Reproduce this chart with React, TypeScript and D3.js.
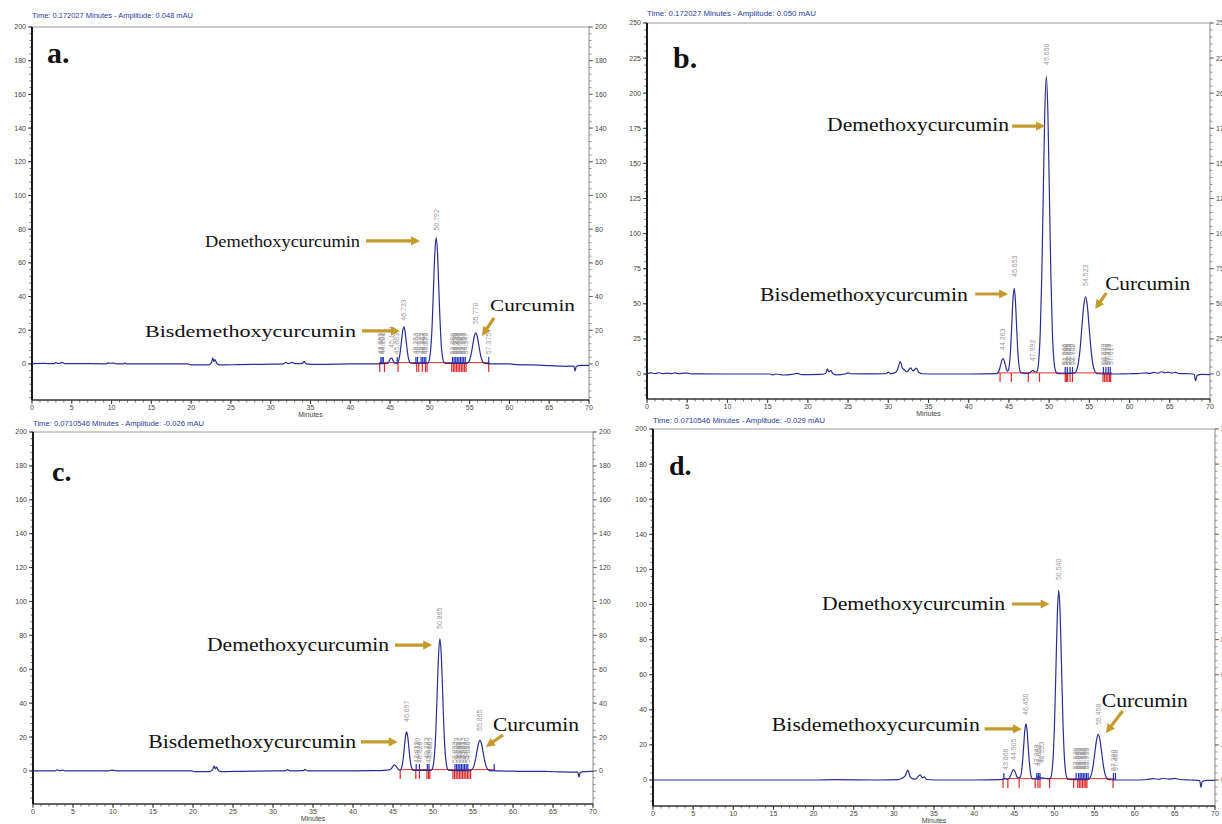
import React from 'react';
import * as d3 from 'd3';

type Pt = [number, number];
type Lbl = [number, string, number];

// ---------- panel a ----------
const traceA: Pt[] = [
  [0, 0.2], [1.5, 0.3], [2.8, 0.2], [3.0, 0.9], [3.2, 0.3], [3.5, 0.4], [3.8, 0.9], [4.1, 0.2], [6, 0.2],
  [9.3, 0.1], [9.6, 0.6], [9.9, 0.4], [10.3, 0.5], [10.6, 0.1], [11.5, 0.1], [11.65, 0.7], [11.8, 0.1],
  [15, 0], [19.5, 0.1], [20, -0.5], [22.2, -0.5], [22.55, 0.8], [22.72, 3.6], [22.85, 1.4], [23.0, 2.6],
  [23.25, 0.1], [23.6, -0.6], [26, -0.4], [29, -0.2], [31.6, 0], [31.9, 1.0], [32.2, 0.2], [32.7, 0.9],
  [33.0, 0.2], [34.0, 0.3], [34.2, 1.5], [34.45, 0.1], [36, -0.2], [40, 0], [43.5, 0.1],
  [44.64, 0.3], [44.77, 0.7], [44.89, 1.7], [45.02, 3.1], [45.14, 3.5], [45.27, 3.1], [45.39, 1.7],
  [45.52, 0.7], [45.66, 0.4], [45.83, 0.5], [45.98, 1.0], [46.13, 3.0], [46.28, 7.2], [46.43, 13.4],
  [46.58, 19.4], [46.733, 22], [46.88, 19.4], [47.03, 13.4], [47.18, 7.2], [47.33, 3.0], [47.48, 1.0],
  [47.63, 0.4], [48.5, 0.3], [49.0, 0.6], [49.3, 0.3], [49.64, 0.4], [49.8, 0.8], [49.97, 3.3],
  [50.13, 10.1], [50.3, 24.4], [50.46, 45.5], [50.63, 66.2], [50.792, 75], [50.96, 66.2], [51.12, 45.5],
  [51.29, 24.4], [51.45, 10.1], [51.62, 3.3], [51.78, 0.8], [51.95, 0.3], [53.5, 0.3], [54.63, 0.3],
  [54.82, 0.8], [55.01, 2.5], [55.2, 6.0], [55.39, 11.2], [55.58, 16.3], [55.77, 18.5], [55.96, 16.3],
  [56.15, 11.2], [56.34, 6.0], [56.53, 2.5], [56.72, 0.8], [56.91, 0.3], [58, 0], [60, 0], [61, -0.4],
  [63, -0.6], [65, -1.0], [67, -1.4], [68.1, -1.3], [68.25, -4.2], [68.4, -1.4], [69, -0.9], [70, -0.8],
];
const blueA = [43.85, 44.0, 44.15, 45.9, 48.25, 48.45, 48.9, 49.1, 49.3, 49.5, 52.85, 53.05, 53.25, 53.45,
  53.65, 53.85, 54.05, 54.25, 54.45, 57.4];
const redA = [43.7, 44.3, 46.0, 48.35, 48.6, 49.05, 49.45, 49.65, 52.75, 52.95, 53.15, 53.35, 53.55, 53.75,
  53.95, 54.15, 54.35, 54.55, 57.4];
const labelsA: Lbl[] = [
  [43.8, '43.853', 4.5], [43.95, '43.962', 4.5], [44.1, '44.101', 4.5], [45.14, '45.143', 8.3],
  [45.86, '45.863', 4.5], [46.733, '46.733', 24.5], [48.25, '48.253', 4.5], [48.45, '48.490', 4.5],
  [48.9, '48.923', 4.5], [49.1, '49.107', 4.5], [49.3, '49.290', 4.5], [49.5, '49.523', 4.5],
  [50.792, '50.792', 78], [52.85, '52.880', 4.5], [53.05, '53.050', 4.5], [53.25, '53.233', 4.5],
  [53.45, '53.417', 4.5], [53.65, '53.600', 4.5], [53.85, '53.787', 4.5], [54.05, '53.963', 4.5],
  [54.25, '54.153', 4.5], [54.45, '54.347', 4.5], [55.77, '55.770', 22.5], [57.375, '57.375', 4.5],
];

// ---------- panel b ----------
const traceB: Pt[] = [
  [0, 0.3], [0.5, 0.8], [1.0, 0.3], [1.5, 0.9], [2.0, 0.2], [2.5, 0.7], [3.0, 0.3], [3.5, 0.8], [4.0, 0.2],
  [4.5, 0.7], [5.0, 0.6], [5.5, 0.1], [10, 0], [15.3, 0], [15.6, -0.7], [16, 0], [17, -0.7], [18, -0.3],
  [18.7, 0.4], [19.2, -0.5], [21.5, -0.3], [22.2, 0.4], [22.45, 3.6], [22.6, 1.6], [22.85, 2.6], [23.1, 0.2],
  [23.6, -0.6], [24.6, 0], [25.0, 0.8], [25.3, 0.2], [27, 0.1], [29.7, 0.2], [30.0, 1.4], [30.3, 0.3],
  [30.8, 0.8], [31.1, 2.4], [31.5, 8.8], [31.75, 4.2], [32.0, 3.0], [32.3, 1.6], [32.8, 4.4], [33.05, 2.2],
  [33.5, 4.2], [33.8, 1.0], [34.2, 0.2], [36, 0], [40, 0], [43.42, 0.3], [43.56, 0.6], [43.7, 1.5],
  [43.84, 3.6], [43.98, 6.7], [44.12, 9.7], [44.263, 11], [44.4, 9.7], [44.54, 6.7], [44.68, 3.6],
  [44.82, 2.0], [44.95, 3.0], [45.09, 8.2], [45.23, 19.8], [45.37, 37.0], [45.51, 53.8], [45.653, 61],
  [45.79, 53.8], [45.93, 37.0], [46.07, 19.8], [46.21, 8.2], [46.35, 2.7], [46.49, 1.0], [46.8, 0.6],
  [47.3, 0.4], [47.6, 1.0], [47.8, 2.0], [47.99, 2.6], [48.2, 1.6], [48.4, 1.4], [48.55, 2.6], [48.7, 9.3],
  [48.89, 28.7], [49.08, 68.9], [49.27, 128.7], [49.46, 187], [49.65, 212], [49.84, 187], [50.03, 128.7],
  [50.22, 68.9], [50.41, 28.7], [50.6, 9.3], [50.79, 2.3], [50.98, 0.5], [51.5, 0.2], [53.17, 0.6],
  [53.4, 2.4], [53.62, 7.4], [53.85, 17.9], [54.07, 33.4], [54.3, 48.5], [54.523, 55], [54.75, 48.5],
  [54.97, 33.4], [55.2, 17.9], [55.42, 7.4], [55.65, 2.4], [55.87, 0.6], [56.1, 0.2], [58, 0], [60, 0.2],
  [61, 0.3], [62, 0.8], [62.5, 0.4], [63, 1.2], [63.5, 0.6], [64, 1.6], [64.4, 0.8], [64.8, 1.4], [65.2, 0.7],
  [65.7, 1.1], [66.2, 0.3], [67.5, 0.2], [68.05, -0.2], [68.2, -4.8], [68.4, -1.0], [69, -0.3], [70, -0.5],
];
const blueB = [52.0, 52.25, 52.6, 52.9, 56.75, 57.05, 57.35, 57.6];
const redB = [43.9, 45.3, 47.4, 48.8, 52.0, 52.15, 52.3, 52.6, 52.9, 56.7, 56.9, 57.1, 57.3, 57.5, 57.65];
const labelsB: Lbl[] = [
  [44.263, '44.263', 15.7], [45.653, '45.653', 67.7], [47.992, '47.992', 7.8], [49.65, '49.650', 218.7],
  [51.95, '51.966', 5], [52.1, '52.080', 5], [52.3, '52.286', 5], [52.45, '52.433', 5], [52.75, '52.750', 5],
  [52.9, '52.902', 5], [54.523, '54.523', 61.3], [56.8, '56.823', 5], [57.0, '56.977', 5],
  [57.2, '57.230', 5], [57.4, '57.413', 5], [57.6, '57.617', 5],
];

// ---------- panel c ----------
const traceC: Pt[] = [
  [0, 0.1], [2.8, 0.1], [3.0, 0.6], [3.3, 0.2], [3.7, 0.5], [4.0, 0.1], [9.5, 0], [9.8, 0.5], [10.4, 0.1],
  [15, 0], [19.8, 0], [20.2, -0.4], [22.0, -0.4], [22.45, 0.6], [22.65, 3.0], [22.8, 1.2], [22.95, 2.2],
  [23.2, 0.1], [23.6, -0.4], [26, -0.2], [30, 0], [31.5, 0.1], [31.8, 0.8], [32.1, 0.1], [33.8, 0.2],
  [34.0, 0.9], [34.3, 0.1], [40, 0.1], [43.5, 0.2], [44.2, 0.5], [44.6, 0.8], [44.8, 1.4], [45.0, 2.8],
  [45.2, 3.6], [45.4, 2.8], [45.6, 1.2], [45.86, 0.4], [46.0, 1.0], [46.14, 3.1], [46.28, 7.5],
  [46.42, 14.0], [46.56, 20.3], [46.697, 23], [46.84, 20.3], [46.98, 14.0], [47.12, 7.5], [47.26, 3.1],
  [47.4, 1.0], [47.54, 0.3], [49.0, 0.3], [49.71, 0.3], [49.87, 0.8], [50.04, 3.4], [50.2, 10.5],
  [50.37, 25.4], [50.53, 47.3], [50.7, 68.8], [50.865, 78], [51.03, 68.8], [51.2, 47.3], [51.36, 25.4],
  [51.53, 10.5], [51.69, 3.4], [51.86, 0.8], [52.02, 0.3], [54.0, 0.2], [54.67, 0.3], [54.87, 0.8],
  [55.07, 2.4], [55.27, 5.85], [55.47, 10.9], [55.67, 15.9], [55.865, 18], [56.07, 15.9], [56.27, 10.9],
  [56.47, 5.85], [56.67, 2.4], [56.87, 0.8], [57.07, 0.2], [58, 0], [60, -0.1], [62, -0.3], [64, -0.3],
  [66, -0.6], [68.1, -0.7], [68.25, -3.6], [68.4, -0.8], [69, -0.4], [70, -0.3],
];
const blueC = [47.9, 48.3, 49.3, 49.5, 52.75, 52.95, 53.15, 53.35, 53.55, 53.75, 53.95, 54.15, 54.35, 57.65];
const redC = [45.9, 47.85, 48.3, 49.25, 49.45, 49.6, 52.5, 52.7, 52.9, 53.1, 53.3, 53.5, 53.7, 53.9, 54.1,
  54.3, 54.5, 54.7];
const labelsC: Lbl[] = [
  [46.697, '46.697', 27.7], [47.9, '47.933', 3.5], [48.1, '48.110', 6], [48.3, '48.320', 3.5],
  [49.25, '49.223', 6], [49.45, '49.410', 3.5], [49.6, '49.603', 6], [50.865, '50.865', 82.6],
  [52.75, '52.893', 3.5], [52.95, '53.073', 6], [53.15, '53.260', 3.5], [53.35, '53.447', 6],
  [53.55, '53.627', 3.5], [53.75, '53.813', 6], [53.95, '54.003', 3.5], [54.15, '54.190', 6],
  [54.35, '54.380', 3.5], [55.865, '55.865', 22.4],
];

// ---------- panel d ----------
const traceD: Pt[] = [
  [0, 0], [5, 0], [10, 0], [15, 0], [20, 0], [22.5, 0.2], [28, 0], [30.5, 0.2], [31.0, 1.0], [31.4, 2.4],
  [31.75, 5.6], [32.0, 2.0], [32.3, 0.8], [32.7, 0.5], [33.05, 2.2], [33.3, 3.0], [33.55, 1.2], [33.8, 1.8],
  [34.1, 0.3], [36, 0], [40, 0], [43.2, 0.2], [43.6, 0.3], [43.87, 1.0], [44.1, 0.4], [44.35, 0.8],
  [44.49, 1.95], [44.63, 3.6], [44.77, 5.3], [44.905, 6], [45.05, 5.3], [45.19, 3.6], [45.33, 1.95],
  [45.47, 1.2], [45.6, 1.3], [45.75, 1.8], [45.89, 4.3], [46.03, 10.4], [46.17, 19.4], [46.31, 28.2],
  [46.45, 32], [46.59, 28.2], [46.73, 19.4], [46.87, 10.4], [47.01, 4.3], [47.15, 1.4], [47.3, 0.6],
  [47.7, 0.8], [48.0, 2.0], [48.3, 1.2], [48.8, 1.0], [49.2, 0.7], [49.52, 1.2], [49.69, 4.7], [49.86, 14.6],
  [50.03, 35.1], [50.2, 65.6], [50.37, 95.3], [50.54, 108], [50.71, 95.3], [50.88, 65.6], [51.05, 35.1],
  [51.22, 14.6], [51.39, 4.7], [51.56, 1.2], [51.73, 0.3], [53.5, 0.2], [54.2, 0.3], [54.41, 1.1],
  [54.62, 3.5], [54.83, 8.5], [55.04, 15.8], [55.25, 22.9], [55.458, 26], [55.67, 22.9], [55.88, 15.8],
  [56.09, 8.5], [56.3, 3.5], [56.51, 1.1], [56.72, 0.3], [58, 0], [60, 0], [61.5, 0.3], [62.3, 0.8],
  [63, 0.4], [63.6, 1.0], [64.2, 0.5], [65, 0.9], [65.6, 0.3], [67, 0], [68.1, -0.3], [68.25, -4.2],
  [68.4, -0.8], [69, -0.2], [70, -0.2],
];
const blueD = [43.7, 47.8, 48.0, 48.2, 52.7, 53.0, 53.2, 53.4, 53.6, 53.8, 54.0, 54.2, 57.35, 57.6];
const redD = [43.6, 44.2, 45.6, 47.6, 47.95, 48.2, 49.4, 52.4, 52.9, 53.1, 53.3, 53.5, 53.7, 53.9, 54.05, 57.3];
const labelsD: Lbl[] = [
  [43.868, '43.868', 4.6], [44.905, '44.905', 10.3], [46.45, '46.450', 35.9], [47.8, '47.843', 6.8],
  [48.05, '48.053', 6.8], [48.4, '48.553', 8.5], [50.54, '50.540', 112.8], [52.65, '52.640', 5],
  [52.85, '52.847', 5], [53.05, '53.050', 5], [53.25, '53.213', 5], [53.45, '53.397', 5], [53.65, '53.580', 5],
  [53.85, '53.770', 5], [54.05, '53.953', 5], [55.458, '55.458', 30.2], [57.38, '57.380', 4], [57.6, '57.468', 4],
];

const xTicks = d3.range(0, 71, 5);
const xMinor = d3.range(0, 71, 1);

interface Annot { text: string; t: number; v: number; len: number; arrow: [number, number, number, number] }

interface PanelDef {
  letter: string; letterDx: number; letterDy: number; letterSize: number;
  title: string; titleLen: number; titleDy: number;
  x0: number; x1: number; top: number; bottom: number;
  yMin: number; yMax: number; yStep: number; yMinor: number;
  trace: Pt[]; blue: number[]; red: number[]; redSpan: [number, number];
  labels: Lbl[]; annots: Annot[]; annSize: number;
}

const panels: PanelDef[] = [
  {
    letter: 'a.', letterDx: 15, letterDy: 36, letterSize: 30,
    title: 'Time:  0.172027 Minutes  -  Amplitude:  0.048 mAU', titleLen: 161, titleDy: -9,
    x0: 32, x1: 589, top: 27, bottom: 400, yMin: -21.4, yMax: 200, yStep: 20, yMinor: 4,
    trace: traceA, blue: blueA, red: redA, redSpan: [43.6, 57.5], labels: labelsA, annSize: 17,
    annots: [
      { text: 'Demethoxycurcumin', t: 21.74, v: 69.4, len: 155, arrow: [41.98, 73, 48.76, 73] },
      { text: 'Bisdemethoxycurcumin', t: 14.2, v: 16.0, len: 211, arrow: [41.47, 19.6, 46.25, 19.6] },
      { text: 'Curcumin', t: 57.56, v: 31.5, len: 85, arrow: [58.06, 27.3, 56.55, 16.6] },
    ],
  },
  {
    letter: 'b.', letterDx: 26, letterDy: 45, letterSize: 30,
    title: 'Time:  0.172027 Minutes  -  Amplitude:  0.050 mAU', titleLen: 169, titleDy: -7,
    x0: 647, x1: 1210, top: 23, bottom: 399, yMin: -17.8, yMax: 250, yStep: 25, yMinor: 5,
    trace: traceB, blue: blueB, red: redB, redSpan: [43.5, 57.8], labels: labelsB, annSize: 19,
    annots: [
      { text: 'Demethoxycurcumin', t: 22.39, v: 173, len: 182, arrow: [45.4, 176.6, 49.5, 176.6] },
      { text: 'Bisdemethoxycurcumin', t: 14.05, v: 52, len: 208, arrow: [40.8, 57, 44.9, 57] },
      { text: 'Curcumin', t: 56.97, v: 59.8, len: 85, arrow: [57.1, 57.6, 55.72, 46.3] },
    ],
  },
  {
    letter: 'c.', letterDx: 19, letterDy: 49, letterSize: 28,
    title: 'Time:  0.0710546 Minutes  -  Amplitude:  -0.026 mAU', titleLen: 171, titleDy: -6,
    x0: 33, x1: 593, top: 432, bottom: 804, yMin: -19.5, yMax: 200, yStep: 20, yMinor: 4,
    trace: traceC, blue: blueC, red: redC, redSpan: [45.9, 57.7], labels: labelsC, annSize: 19,
    annots: [
      { text: 'Demethoxycurcumin', t: 21.75, v: 70.8, len: 182, arrow: [45.25, 74.3, 49.9, 74.3] },
      { text: 'Bisdemethoxycurcumin', t: 14.4, v: 13.6, len: 208, arrow: [41.0, 17.1, 45.6, 17.1] },
      { text: 'Curcumin', t: 57.5, v: 23.6, len: 86, arrow: [58.75, 21.2, 56.6, 14.2] },
    ],
  },
  {
    letter: 'd.', letterDx: 16, letterDy: 46, letterSize: 28,
    title: 'Time:  0.0710546 Minutes  -  Amplitude:  -0.029 mAU', titleLen: 172, titleDy: -6,
    x0: 653, x1: 1215, top: 429, bottom: 806, yMin: -14.8, yMax: 200, yStep: 20, yMinor: 4,
    trace: traceD, blue: blueD, red: redD, redSpan: [43.5, 57.5], labels: labelsD, annSize: 19,
    annots: [
      { text: 'Demethoxycurcumin', t: 21.05, v: 96.9, len: 183, arrow: [44.7, 100.3, 49.4, 100.3] },
      { text: 'Bisdemethoxycurcumin', t: 14.8, v: 27.9, len: 208, arrow: [41.3, 29.1, 45.95, 29.1] },
      { text: 'Curcumin', t: 55.9, v: 41.6, len: 86, arrow: [58.5, 39.3, 56.4, 26.8] },
    ],
  },
];

const GOLD = '#c49a2c';
const SANS = 'Liberation Sans, Arial, sans-serif';
const SERIF = 'Liberation Serif, Times New Roman, serif';

function Arrow({ x1, y1, x2, y2 }: { x1: number; y1: number; x2: number; y2: number }) {
  const L = Math.hypot(x2 - x1, y2 - y1);
  const ang = (Math.atan2(y2 - y1, x2 - x1) * 180) / Math.PI;
  const h = 9, hw = 4.6, w = 1.6;
  const pts = [[0, -w], [L - h, -w], [L - h, -hw], [L, 0], [L - h, hw], [L - h, w], [0, w]];
  return (
    <polygon
      transform={`translate(${x1},${y1}) rotate(${ang})`}
      points={pts.map((p) => p.join(',')).join(' ')}
      fill={GOLD}
    />
  );
}

function Panel({ p }: { p: PanelDef }) {
  const x = d3.scaleLinear().domain([0, 70]).range([p.x0, p.x1]);
  const y = d3.scaleLinear().domain([p.yMin, p.yMax]).range([p.bottom, p.top]);
  const line = d3.line<Pt>().x((d) => x(d[0])).y((d) => y(d[1])).curve(d3.curveMonotoneX);
  const yTicks = d3.range(0, p.yMax + 0.01, p.yStep);
  const yMinor = d3.range(Math.ceil(p.yMin / p.yMinor) * p.yMinor, p.yMax + 0.01, p.yMinor);
  const y0 = y(0);

  return (
    <g>
      <text x={p.x0} y={p.top + p.titleDy} fontSize={7} fontFamily={SANS} fill="#2a3a9a"
        textLength={p.titleLen} lengthAdjust="spacingAndGlyphs">{p.title}</text>

      {/* frame */}
      <line x1={p.x0} x2={p.x1} y1={p.top} y2={p.top} stroke="#9a9a9a" strokeWidth={1} />
      <line x1={p.x1} x2={p.x1} y1={p.top} y2={p.bottom} stroke="#8a8a8a" strokeWidth={1} />

      {/* left + right axes */}
      {yMinor.map((v) => (
        <g key={'m' + v}>
          <line x1={p.x0 - 2.5} x2={p.x0} y1={y(v)} y2={y(v)} stroke="#444" strokeWidth={0.8} />
          <line x1={p.x1} x2={p.x1 + 2.5} y1={y(v)} y2={y(v)} stroke="#777" strokeWidth={0.8} />
        </g>
      ))}
      {yTicks.map((v) => (
        <g key={'t' + v}>
          <line x1={p.x0 - 4} x2={p.x0} y1={y(v)} y2={y(v)} stroke="#333" strokeWidth={0.9} />
          <line x1={p.x1} x2={p.x1 + 4} y1={y(v)} y2={y(v)} stroke="#666" strokeWidth={0.9} />
          <text x={p.x0 - 6} y={y(v)} dy="0.35em" textAnchor="end" fontSize={7} fontFamily={SANS} fill="#444">{v}</text>
          <text x={p.x1 + 6} y={y(v)} dy="0.35em" fontSize={7} fontFamily={SANS} fill="#444">{v}</text>
        </g>
      ))}

      {/* bottom axis */}
      {xMinor.map((t) => (
        <line key={'xm' + t} x1={x(t)} x2={x(t)} y1={p.bottom} y2={p.bottom + 2.5} stroke="#555" strokeWidth={0.8} />
      ))}
      {xTicks.map((t) => (
        <g key={'xt' + t}>
          <line x1={x(t)} x2={x(t)} y1={p.bottom} y2={p.bottom + 4} stroke="#333" strokeWidth={0.9} />
          <text x={x(t)} y={p.bottom + 10} textAnchor="middle" fontSize={7} fontFamily={SANS} fill="#444">{t}</text>
        </g>
      ))}
      <text x={(p.x0 + p.x1) / 2} y={p.bottom + 17} textAnchor="middle" fontSize={7} fontFamily={SANS} fill="#444">Minutes</text>
      <line x1={p.x0} x2={p.x1} y1={p.bottom} y2={p.bottom} stroke="#333" strokeWidth={1.4} />
      <line x1={p.x0} x2={p.x0} y1={p.top} y2={p.bottom} stroke="#1a1a1a" strokeWidth={2} />

      {/* integration baseline and events */}
      <line x1={x(p.redSpan[0])} x2={x(p.redSpan[1])} y1={y(0.8)} y2={y(0.8)} stroke="#e03030" strokeWidth={1} />
      {p.red.map((t, i) => (
        <line key={'r' + i} x1={x(t)} x2={x(t)} y1={y0 - 1} y2={y0 + 8} stroke="#e02828" strokeWidth={1.2} />
      ))}
      {p.blue.map((t, i) => (
        <line key={'b' + i} x1={x(t)} x2={x(t)} y1={y0} y2={y0 - 7} stroke="#2233bb" strokeWidth={1.2} />
      ))}

      <path d={line(p.trace) ?? ''} fill="none" stroke="#2b2d92" strokeWidth={1.2} />

      {/* retention time labels */}
      {p.labels.map(([t, s, v], i) => (
        <text key={'l' + i} transform={`translate(${x(t)},${y(v) - 2}) rotate(-90)`} dy="0.35em"
          fontSize={7} fontFamily={SANS} fill="#9a9a9a">{s}</text>
      ))}

      {/* compound annotations */}
      {p.annots.map((a) => (
        <g key={a.text}>
          <text x={x(a.t)} y={y(a.v)} fontSize={p.annSize} fontFamily={SERIF} fill="#111"
            textLength={a.len} lengthAdjust="spacingAndGlyphs">{a.text}</text>
          <Arrow x1={x(a.arrow[0])} y1={y(a.arrow[1])} x2={x(a.arrow[2])} y2={y(a.arrow[3])} />
        </g>
      ))}

      <text x={p.x0 + p.letterDx} y={p.top + p.letterDy} fontSize={p.letterSize} fontWeight="bold"
        fontFamily={SERIF} fill="#111">{p.letter}</text>
    </g>
  );
}

export default function App() {
  return (
    <svg width={1222} height={824} style={{ position: 'absolute', left: 0, top: 0, background: '#fff' }}>
      <rect x={0} y={0} width={1222} height={824} fill="#fff" />
      {panels.map((p) => (
        <Panel key={p.letter} p={p} />
      ))}
    </svg>
  );
}
